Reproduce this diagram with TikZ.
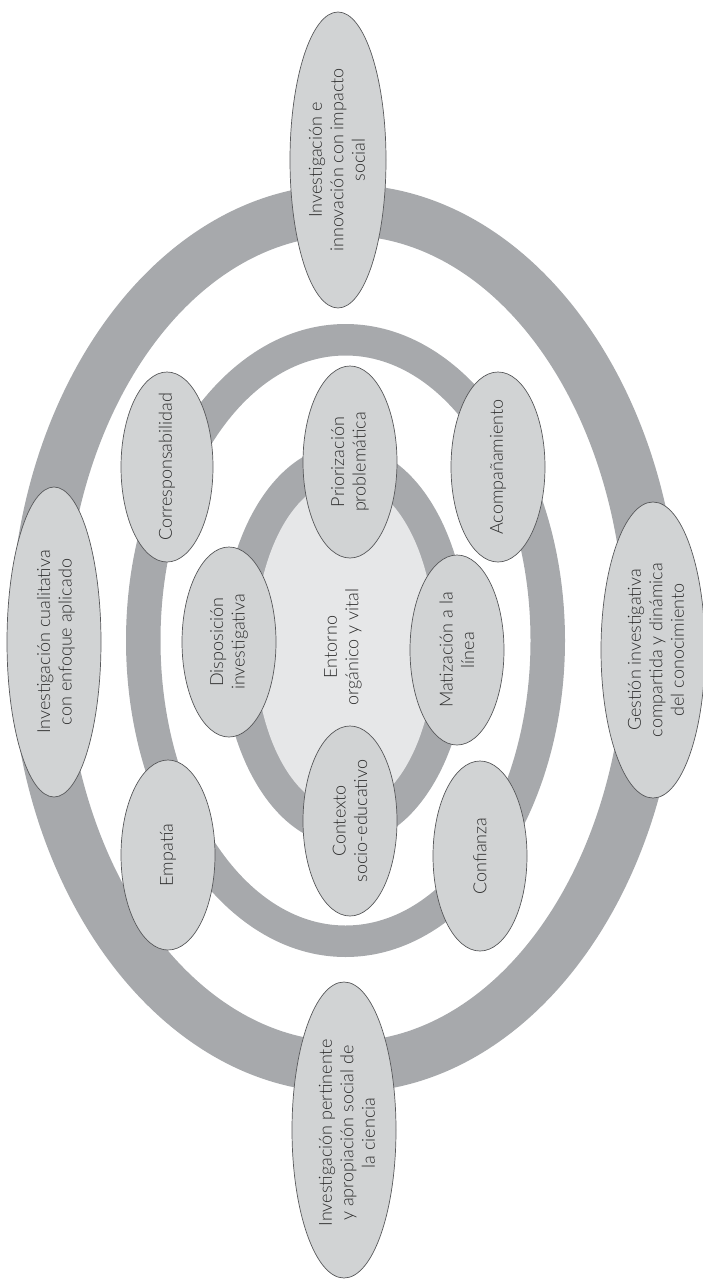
\documentclass[tikz,border=0pt]{standalone}
\usepackage{fontspec}
\setmainfont{Lato}[UprightFont={* Light}]
\definecolor{ringc}{HTML}{A7A9AC}
\definecolor{bubc}{HTML}{D1D3D4}
\definecolor{corec}{HTML}{E6E7E8}
\definecolor{edgec}{HTML}{58595B}
\definecolor{txtc}{HTML}{2E2E2E}
\tikzset{
  bubble/.style={fill=bubc, draw=edgec, line width=0.7pt},
  lbl/.style={rotate=90, align=center, font=\fontsize{18}{21.5}\selectfont, text=txtc, inner sep=0pt}
}
\begin{document}
\begin{tikzpicture}[x=1pt,y=-1pt]
\useasboundingbox (0,0) rectangle (703,1279);
% rings
\fill[ringc, even odd rule] (345,638.5) ellipse [x radius=335pt, y radius=454pt]
  (345,638.5) ellipse [x radius=280pt, y radius=403pt];
\fill[ringc, even odd rule] (345.5,640.5) ellipse [x radius=219.5pt, y radius=316.5pt]
  (345.5,640.5) ellipse [x radius=185pt, y radius=285pt];
\fill[ringc] (345,645) ellipse [x radius=123pt, y radius=200pt];
\fill[corec] (345,645) ellipse [x radius=90pt, y radius=165pt];
% outer bubbles
\path[bubble] (338,160) ellipse [x radius=48pt, y radius=148pt];
\path[bubble] (344,1130) ellipse [x radius=52pt, y radius=148pt];
\path[bubble] (54,642) ellipse [x radius=47pt, y radius=155pt];
\path[bubble] (653,650) ellipse [x radius=52pt, y radius=148pt];
% middle bubbles
\path[bubble] (167,467) ellipse [x radius=46pt, y radius=95pt];
\path[bubble] (498,467) ellipse [x radius=47pt, y radius=95pt];
\path[bubble] (168,855) ellipse [x radius=47pt, y radius=95pt];
\path[bubble] (480,856) ellipse [x radius=47pt, y radius=95pt];
% inner bubbles
\path[bubble] (350,462) ellipse [x radius=47pt, y radius=96pt];
\path[bubble] (229,642) ellipse [x radius=47pt, y radius=95pt];
\path[bubble] (457,650) ellipse [x radius=47pt, y radius=95pt];
\path[bubble] (350,821) ellipse [x radius=47pt, y radius=95pt];
% labels
\node[lbl] (top) at (337,160) {Investigación e\\innovación con impacto\\social};
\node[lbl] (bot) at (347,1133) {Investigación pertinente\\y apropiación social de\\la ciencia};
\node[lbl] (lft) at (56,642) {Investigación cualitativa\\con enfoque aplicado};
\node[lbl] (rgt) at (656,650) {Gestión investigativa\\compartida y dinámica\\del conocimiento};
\node[lbl] (cor) at (167,467) {Corresponsabilidad};
\node[lbl] (aco) at (498,467) {Acompañamiento};
\node[lbl] (emp) at (168,855) {Empatía};
\node[lbl] (con) at (480,856) {Confianza};
\node[lbl] (pri) at (350,462) {Priorización\\problemática};
\node[lbl] (dis) at (229,642) {Disposición\\investigativa};
\node[lbl] (mat) at (457,650) {Matización a la\\línea};
\node[lbl] (ctx) at (350,821) {Contexto\\socio-educativo};
\node[lbl] (ent) at (343,647) {Entorno\\orgánico y vital};
\end{tikzpicture}
\end{document}
